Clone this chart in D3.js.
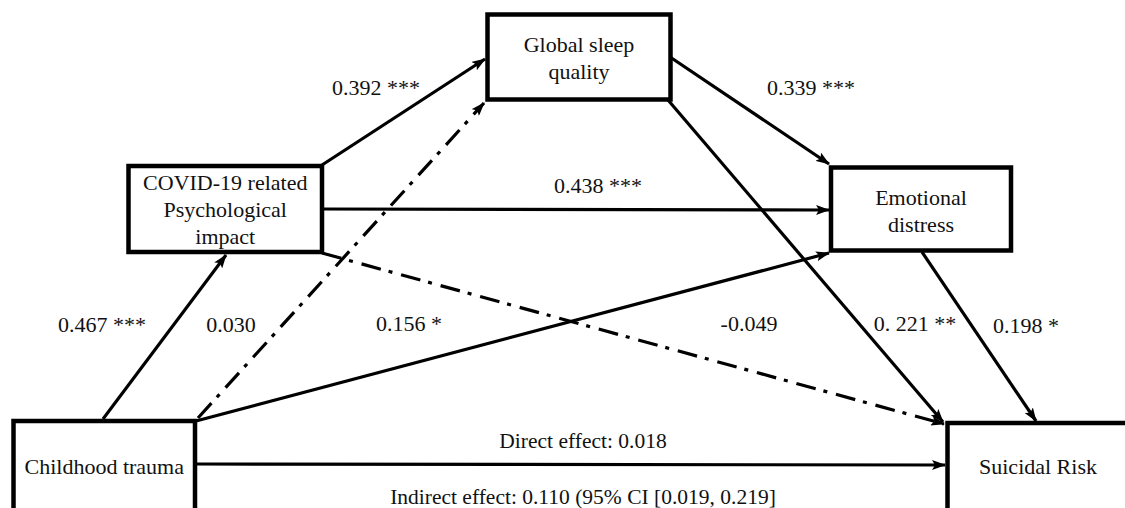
<!DOCTYPE html>
<html>
<head>
<meta charset="utf-8">
<script src="https://cdn.jsdelivr.net/npm/d3@7"></script>
<style>
  html, body { margin: 0; padding: 0; background: #fff; }
  svg { display: block; }
</style>
</head>
<body>
<div id="chart"></div>
<script>
// ---- data ----
const nodeIds = ["trauma", "covid", "sleep", "distress", "risk"];
const nodeLabels = [
  ["Childhood trauma"],
  ["COVID-19 related", "Psychological", "impact"],
  ["Global sleep", "quality"],
  ["Emotional", "distress"],
  ["Suicidal Risk"]
];
const pathFrom = ["trauma", "trauma", "trauma", "trauma", "covid", "covid", "covid", "sleep", "sleep", "distress"];
const pathTo   = ["covid", "sleep", "distress", "risk", "sleep", "distress", "risk", "distress", "risk", "risk"];
const pathCoef = ["0.467 ***", "0.030", "0.156 *", "", "0.392 ***", "0.438 ***", "-0.049", "0.339 ***", "0. 221 **", "0.198 *"];
const pathSignificant = [true, false, true, true, true, true, false, true, true, true];
const effectLabels = ["Direct effect: 0.018", "Indirect effect: 0.110 (95% CI [0.019, 0.219]"];

// ---- layout (positions only) ----
const W = 1125, H = 508;
const FONT = "'Liberation Serif', 'Times New Roman', Times, serif";
const boxLayout = {
  trauma:   {x: 13.5,  y: 421,   w: 181.5, h: 120, lineY: [474]},
  covid:    {x: 128.5, y: 166,   w: 193.5, h: 86,  lineY: [190, 217, 244]},
  sleep:    {x: 487.5, y: 14.5,  w: 183,   h: 85,  lineY: [52, 79]},
  distress: {x: 831,   y: 167.5, w: 180,   h: 83,  lineY: [205, 232]},
  risk:     {x: 947.5, y: 423,   w: 200,   h: 120, lineY: [474]}
};
const pathGeom = [
  [[103, 419], [226, 255]],
  [[198, 418], [484, 103]],
  [[196, 421], [829, 253]],
  [[196, 464], [945, 465]],
  [[322, 165], [485, 59]],
  [[322, 209], [829, 210]],
  [[322, 253], [944, 424]],
  [[670, 57],  [829, 164]],
  [[668, 100], [943, 422]],
  [[922, 252], [1036, 421]]
];
const labelPos = [
  [102, 332], [231, 332], [409, 331], null, [376, 95],
  [598, 193], [749, 331], [811, 95], [915, 331], [1026, 333]
];
const effectPos = [[583, 448], [583, 504]];

const svg = d3.select("#chart").append("svg")
  .attr("width", W).attr("height", H)
  .attr("viewBox", `0 0 ${W} ${H}`)
  .attr("font-family", FONT);

svg.append("rect").attr("width", W).attr("height", H).attr("fill", "#fff");

const defs = svg.append("defs");
defs.append("marker")
  .attr("id", "arrow")
  .attr("markerUnits", "userSpaceOnUse")
  .attr("viewBox", "0 0 14 10")
  .attr("refX", 13).attr("refY", 5)
  .attr("markerWidth", 14).attr("markerHeight", 10)
  .attr("orient", "auto")
  .append("path")
  .attr("d", "M0,0 L14,5 L0,10 L3,5 Z")
  .attr("fill", "#000");

const line = d3.line();
const paths = pathFrom.map((f, i) => ({from: f, to: pathTo[i], coef: pathCoef[i], sig: pathSignificant[i], pts: pathGeom[i], lp: labelPos[i]}));

svg.append("g").selectAll("path")
  .data(paths)
  .join("path")
  .attr("d", d => line(d.pts))
  .attr("fill", "none")
  .attr("stroke", "#000")
  .attr("stroke-width", 3.2)
  .attr("stroke-dasharray", d => d.sig ? null : "20,8,4,9")
  .attr("marker-end", "url(#arrow)");

const nodes = nodeIds.map((id, i) => ({id, lines: nodeLabels[i], ...boxLayout[id]}));
const g = svg.append("g").selectAll("g").data(nodes).join("g");
g.append("rect")
  .attr("x", d => d.x).attr("y", d => d.y)
  .attr("width", d => d.w).attr("height", d => d.h)
  .attr("fill", "#fff")
  .attr("stroke", "#000")
  .attr("stroke-width", 4.5);
g.each(function(d) {
  d3.select(this).selectAll("text")
    .data(d.lines.map((t, j) => ({t, y: d.lineY[j], cx: d.id === "risk" ? 1038 : d.x + d.w / 2})))
    .join("text")
    .attr("x", t => t.cx).attr("y", t => t.y)
    .attr("text-anchor", "middle")
    .attr("font-family", FONT)
    .attr("font-size", 22)
    .attr("fill", "#111")
    .text(t => t.t);
});

svg.append("g").selectAll("text")
  .data(paths.filter(d => d.coef && d.lp))
  .join("text")
  .attr("x", d => d.lp[0]).attr("y", d => d.lp[1])
  .attr("text-anchor", "middle")
  .attr("font-family", FONT)
  .attr("font-size", 22)
  .attr("fill", "#111")
  .text(d => d.coef);

svg.append("g").selectAll("text")
  .data(effectLabels.map((t, i) => ({t, p: effectPos[i]})))
  .join("text")
  .attr("x", d => d.p[0]).attr("y", d => d.p[1])
  .attr("text-anchor", "middle")
  .attr("font-family", FONT)
  .attr("font-size", 21.5)
  .attr("fill", "#111")
  .text(d => d.t);
</script>
</body>
</html>
